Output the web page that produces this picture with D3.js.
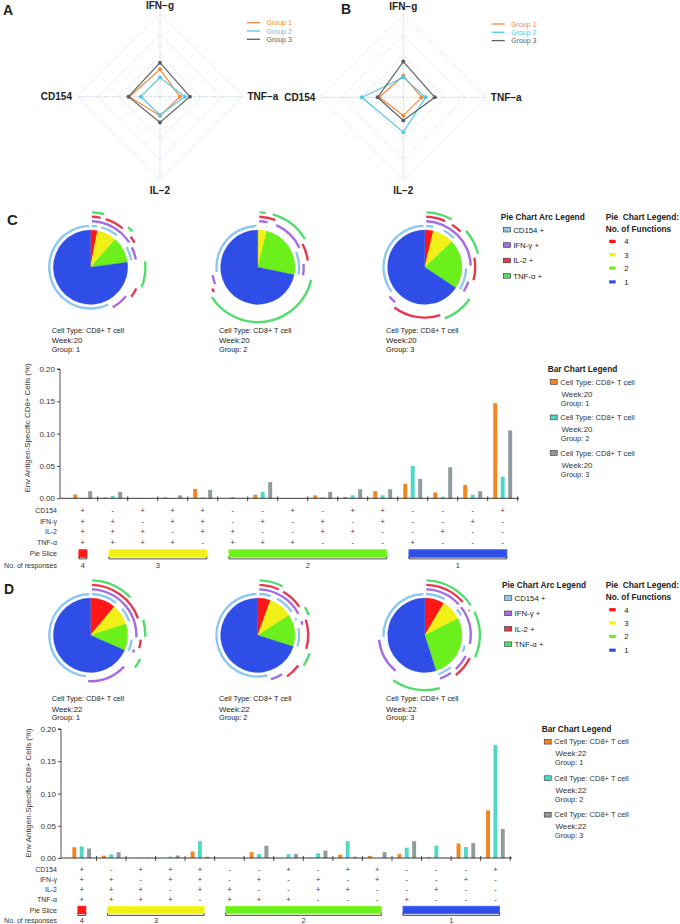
<!DOCTYPE html>
<html><head><meta charset="utf-8">
<script src="https://cdn.jsdelivr.net/npm/d3@7"></script>
<style>body{margin:0;background:#fff}svg{display:block;font-family:"Liberation Sans",Arial,Helvetica,sans-serif}</style>
</head><body><svg id="c" width="680" height="924"></svg>
<script>
// ---------------- DATA ----------------
const radarAxes = ["IFN\u2212g", "TNF\u2212a", "IL\u22122", "CD154"];
const radarA_g1 = [0.33, 0.24, 0.23, 0.37];
const radarA_g2 = [0.23, 0.30, 0.22, 0.23];
const radarA_g3 = [0.41, 0.36, 0.31, 0.38];
const radarB_g1 = [0.26, 0.22, 0.22, 0.29];
const radarB_g2 = [0.24, 0.27, 0.42, 0.50];
const radarB_g3 = [0.43, 0.38, 0.28, 0.31];
const groupNames = ["Group 1", "Group 2", "Group 3"];

const markerNames = ["CD154", "IFN-\u03b3", "IL-2", "TNF-\u03b1"];
const cd154 = ["+","-","+","+","+","-","-","+","-","+","+","-","-","-","+"];
const ifng  = ["+","+","-","+","+","-","+","-","+","-","+","-","-","+","-"];
const il2   = ["+","+","+","-","+","+","-","-","+","+","-","-","+","-","-"];
const tnfa  = ["+","+","+","+","-","+","+","+","-","-","-","+","-","-","-"];

// bar values (% of CD8+ cells), week 20
const w20_g1 = [0.006, 0.0015, 0, 0.0015, 0.0145, 0, 0.0055, 0, 0.0045, 0.002, 0.011, 0.0225, 0.009, 0.0205, 0.147];
const w20_g2 = [0, 0.0035, 0, 0, 0.0015, 0.002, 0.010, 0, 0.0015, 0.0045, 0.0045, 0.050, 0.0025, 0.0055, 0.0335];
const w20_g3 = [0.011, 0.010, 0, 0.0045, 0.013, 0, 0.025, 0, 0.010, 0.014, 0.014, 0.030, 0.048, 0.011, 0.105];
// week 22
const w22_g1 = [0.0167, 0.0037, 0, 0, 0.010, 0, 0.009, 0, 0.0005, 0.0052, 0.003, 0.006, 0.0015, 0.0225, 0.074];
const w22_g2 = [0.018, 0.0058, 0.0005, 0.002, 0.026, 0, 0.006, 0.0058, 0.0073, 0.026, 0, 0.016, 0.019, 0.017, 0.1755];
const w22_g3 = [0.0147, 0.009, 0.0005, 0.004, 0.002, 0, 0.019, 0.006, 0.0115, 0.002, 0.009, 0.026, 0.0005, 0.023, 0.045];

// pie values (% of responses per combination)
const pie20_g1 = [3.0, 0.7, 0, 0.7, 7.1, 0, 2.7, 0, 2.2, 1.0, 5.4, 8.6, 4.0, 7.0, 57.5];
const pie20_g2 = [0, 2.7, 0, 0, 1.2, 2.2, 10.8, 0, 1.6, 4.9, 4.9, 38.0, 2.2, 4.2, 27.3];
const pie20_g3 = [3.7, 3.4, 0, 1.5, 4.4, 0, 8.5, 0, 3.4, 4.7, 4.7, 10.2, 16.2, 3.7, 35.5];
const pie22_g1 = [11.0, 2.4, 0, 0, 6.6, 0, 5.9, 0, 0.3, 3.4, 2.0, 3.9, 1.0, 14.8, 48.7];
const pie22_g2 = [5.5, 1.8, 0, 0.6, 8.0, 0, 1.8, 1.8, 2.3, 8.0, 0, 4.9, 5.9, 5.2, 54.1];
const pie22_g3 = [8.5, 5.2, 0.3, 2.3, 1.2, 0, 11.0, 3.5, 6.7, 1.2, 5.2, 15.1, 0.3, 13.4, 26.1];

const yTicks = [0, 0.05, 0.10, 0.15, 0.20];
const funcLevels = [4, 3, 2, 1];

// ---------------- STYLE ----------------
const radarColors = ["#f28a38", "#55c8e8", "#5b6268"];
const barColors = ["#f5861f", "#4fd8c6", "#909b9b"];
const sliceColors = {4: "#ff1616", 3: "#f0f016", 2: "#6cf01c", 1: "#2f4ee8"};
const arcColors = ["#8cc8f0", "#a66ce4", "#e63a50", "#52dc6c"];
const FONT = '"Liberation Sans", Arial, Helvetica, sans-serif';

const svg = d3.select("#c");
svg.append("rect").attr("width", 680).attr("height", 924).attr("fill", "#fff");

function txt(x, y, s, o = {}) {
  return svg.append("text").attr("x", x).attr("y", y).text(s)
    .attr("font-size", o.size || 7.5).attr("font-weight", o.bold ? "bold" : "normal")
    .attr("text-anchor", o.anchor || "start").attr("fill", o.fill || "#222");
}

// ---------------- RADARS ----------------
function radar(cx, cy, series, lx, ly) {
  const R = 83;
  const r = d3.scaleLinear().domain([0, 1]).range([0, R]);
  const ang = i => i * Math.PI / 2;
  const pt = (v, i) => [cx + r(v) * Math.sin(ang(i)), cy - r(v) * Math.cos(ang(i))];
  const g = svg.append("g");
  [0.25, 0.5, 0.75, 1].forEach(l => {
    g.append("polygon").attr("points", radarAxes.map((a, i) => pt(l, i).join(",")).join(" "))
      .attr("fill", "none").attr("stroke", "#b7c5ec").attr("stroke-width", 0.7).attr("stroke-dasharray", "1.2,1.4");
  });
  radarAxes.forEach((a, i) => {
    const p = pt(1, i);
    g.append("line").attr("x1", cx).attr("y1", cy).attr("x2", p[0]).attr("y2", p[1])
      .attr("stroke", "#aabce8").attr("stroke-width", 0.8).attr("stroke-dasharray", "1.2,1.4");
  });
  txt(cx, cy - 87.5, radarAxes[0], {size: 10, bold: true, anchor: "middle"});
  txt(cx + 87.5, cy + 3.6, radarAxes[1], {size: 10, bold: true});
  txt(cx, cy + 97, radarAxes[2], {size: 10, bold: true, anchor: "middle"});
  txt(cx - 88, cy + 3.6, radarAxes[3], {size: 10, bold: true, anchor: "end"});
  const line = d3.line().curve(d3.curveLinearClosed);
  series.forEach((vals, k) => {
    g.append("path").attr("d", line(vals.map((v, i) => pt(v, i))))
      .attr("fill", "none").attr("stroke", radarColors[k]).attr("stroke-width", 1.2);
    vals.forEach((v, i) => {
      const p = pt(v, i);
      g.append("circle").attr("cx", p[0]).attr("cy", p[1]).attr("r", 2).attr("fill", radarColors[k]);
    });
  });
  groupNames.forEach((n, k) => {
    const y = ly + k * 8.3;
    g.append("line").attr("x1", lx).attr("x2", lx + 13).attr("y1", y).attr("y2", y)
      .attr("stroke", radarColors[k]).attr("stroke-width", 1.3);
    txt(lx + 19.5, y + 2.5, n, {size: 7, fill: radarColors[k]});
  });
}
txt(3, 14.5, "A", {size: 14, bold: true});
txt(341, 13.5, "B", {size: 14, bold: true});
radar(160, 96.7, [radarA_g1, radarA_g2, radarA_g3], 247, 22.7);
radar(403.3, 97.3, [radarB_g1, radarB_g2, radarB_g3], 491.7, 24);

// ---------------- PIES ----------------
const markerSigns = [cd154, ifng, il2, tnfa];
const nFunc = cd154.map((s, i) => markerSigns.filter(m => m[i] === "+").length);
const pieR = 37.2;
const arcRadii = [41.3, 45.9, 50.4, 54.9];

function drawPie(cx, cy, vals, week, grp) {
  const g = svg.append("g").attr("transform", `translate(${cx},${cy})`);
  const pie = d3.pie().sort(null).value(d => d.v);
  const arcs = pie(vals.map((v, i) => ({v, i})));
  const slices = [];
  arcs.forEach(a => {
    if (a.data.v <= 0) return;
    const n = nFunc[a.data.i];
    const last = slices[slices.length - 1];
    if (last && last.n === n) last.endAngle = a.endAngle;
    else slices.push({n, startAngle: a.startAngle, endAngle: a.endAngle});
  });
  const arcGen = d3.arc().innerRadius(0).outerRadius(pieR);
  g.selectAll("path.s").data(slices).join("path")
    .attr("d", arcGen).attr("fill", d => sliceColors[d.n])
    .attr("stroke", d => sliceColors[d.n]).attr("stroke-width", 0.3);
  markerSigns.forEach((signs, m) => {
    const runs = [];
    let cur = null;
    arcs.forEach(a => {
      if (a.data.v <= 0) return;
      if (signs[a.data.i] === "+") {
        if (cur) cur.e = a.endAngle; else cur = {s: a.startAngle, e: a.endAngle};
      } else if (cur) { runs.push(cur); cur = null; }
    });
    if (cur) runs.push(cur);
    const ag = d3.arc().innerRadius(arcRadii[m] - 1.2).outerRadius(arcRadii[m] + 1.2);
    runs.forEach(rn => {
      const pad = 0.03;
      if (rn.e - rn.s > 2 * pad + 0.01)
        g.append("path").attr("d", ag({startAngle: rn.s + pad, endAngle: rn.e - pad})).attr("fill", arcColors[m]);
    });
  });
  txt(cx - 38.8, cy + 65.5, "Cell Type: CD8+ T cell", {size: 7.3});
  txt(cx - 38.8, cy + 76.2, "Week:" + week, {size: 7.8});
  txt(cx - 38.8, cy + 84.7, "Group: " + grp, {size: 7.3});
}

function pieLegends(ax, px, y0) {
  txt(ax, y0 + 3, "Pie Chart Arc Legend", {size: 8.3, bold: true});
  const off = [13, 28.3, 43.8, 59.2];
  markerNames.forEach((n, m) => {
    const y = y0 + off[m];
    svg.append("rect").attr("x", ax + 2.6).attr("y", y - 2.3).attr("width", 7.2).attr("height", 4.6)
      .attr("fill", arcColors[m]).attr("stroke", "#333").attr("stroke-width", 0.6);
    txt(ax + 12.5, y + 2.8, n + " +", {size: 7.8});
  });
  txt(px, y0 + 3, "Pie  Chart Legend:", {size: 8.3, bold: true}).attr("xml:space", "preserve");
  txt(px, y0 + 15, "No. of Functions", {size: 8.3, bold: true});
  const off2 = [24.7, 38, 51.4, 65.2];
  funcLevels.forEach((f, k) => {
    const y = y0 + off2[k];
    svg.append("rect").attr("x", px + 3.5).attr("y", y - 1.6).attr("width", 6.5).attr("height", 3.2).attr("fill", sliceColors[f]);
    txt(px + 18.5, y + 2.8, String(f), {size: 7.8});
  });
}

const pieX = [90.5, 257.8, 424.8];
txt(7, 225, "C", {size: 15, bold: true});
[pie20_g1, pie20_g2, pie20_g3].forEach((p, k) => drawPie(pieX[k], 267.2, p, 20, k + 1));
pieLegends(500.7, 605.7, 216.7);

txt(4, 593.5, "D", {size: 14, bold: true});
[pie22_g1, pie22_g2, pie22_g3].forEach((p, k) => drawPie(pieX[k], 635.3, p, 22, k + 1));
pieLegends(502, 605.7, 585);

// ---------------- BAR CHARTS ----------------
function drawBars(p) {
  const data = p.data;
  const x = d3.scaleBand().domain(d3.range(15)).range([p.xStart, p.xEnd]);
  const xi = d3.scaleBand().domain([0, 1, 2]).range([0, x.bandwidth()]).paddingInner(0.47).paddingOuter(0.74);
  const y = d3.scaleLinear().domain([0, 0.2]).range([p.yZero, p.yTop]);
  const g = svg.append("g");
  data.forEach((vals, k) => {
    g.selectAll(null).data(vals).join("rect")
      .attr("x", (d, i) => x(i) + xi(k)).attr("width", xi.bandwidth())
      .attr("y", d => y(d)).attr("height", d => p.yZero - y(d))
      .attr("fill", barColors[k]);
  });
  const ya = svg.append("g").attr("transform", `translate(${p.axisX},0)`)
    .call(d3.axisLeft(y).tickValues(yTicks).tickSize(3).tickPadding(2).tickFormat(d3.format(".2f")));
  ya.selectAll("text").attr("font-size", 8).attr("font-family", FONT).attr("fill", "#333");
  ya.selectAll("line, path").attr("stroke", "#222").attr("stroke-width", 0.8);
  ya.select(".domain").attr("d", `M-3,${p.yTop}H0V${p.yZero}`);
  svg.append("line").attr("x1", p.axisX).attr("x2", p.axisEnd).attr("y1", p.yZero).attr("y2", p.yZero)
    .attr("stroke", "#222").attr("stroke-width", 0.9);
  d3.range(15).forEach(i => {
    const tx = x(i) + x.bandwidth();
    svg.append("line").attr("x1", tx).attr("x2", tx).attr("y1", p.yZero - 2).attr("y2", p.yZero + 3)
      .attr("stroke", "#222").attr("stroke-width", 0.8);
  });
  svg.append("text").attr("transform", `translate(${p.ylabX},${p.ylabY}) rotate(-90)`)
    .attr("text-anchor", "middle").attr("font-size", 7.9).attr("fill", "#333")
    .text("Env Antigen-Specific CD8+ Cells (%)");
  const rows = p.rows;
  const labels = ["CD154", "IFN-\u03b3", "IL-2", "TNF-\u03b1", "Pie Slice", "No. of responses"];
  labels.forEach((l, r) => txt(57, rows[r] + 2.5, l, {size: 7, anchor: "end", fill: "#333"}));
  markerSigns.forEach((signs, m) => {
    signs.forEach((s, i) => txt(x(i) + x.bandwidth() / 2, rows[m] + 2.5, s, {size: 7.5, anchor: "middle", fill: "#333"}));
  });
  const runs = [];
  nFunc.forEach((n, i) => {
    const last = runs[runs.length - 1];
    if (last && last.n === n) last.e = i; else runs.push({n, s: i, e: i});
  });
  runs.forEach(rn => {
    const x0 = x(rn.s) + x.bandwidth() / 2 - 3.8, x1 = x(rn.e) + x.bandwidth() / 2 + 4.2;
    const yc = rows[4];
    svg.append("rect").attr("x", x0).attr("y", yc - 3.8).attr("width", x1 - x0).attr("height", 7.6)
      .attr("fill", sliceColors[rn.n]).attr("stroke", d3.color(sliceColors[rn.n]).brighter(0.8)).attr("stroke-width", 0.8);
    const by = yc + 5.4;
    svg.append("path").attr("d", `M${x0},${by - 2.2}V${by}H${x1}V${by - 2.2}`)
      .attr("fill", "none").attr("stroke", "#222").attr("stroke-width", 0.8);
    txt((x0 + x1) / 2, rows[5] + 2.5, String(rn.n), {size: 7.5, anchor: "middle", fill: "#333"});
  });
}

function barLegend(tx, ty, week, spacing) {
  txt(tx, ty + 3, "Bar Chart Legend", {size: 8.3, bold: true});
  groupNames.forEach((n, k) => {
    const y = ty + 12.8 + k * spacing;
    svg.append("rect").attr("x", tx + 2.5).attr("y", y - 2.3).attr("width", 7).attr("height", 4.8)
      .attr("fill", barColors[k]).attr("stroke", "#333").attr("stroke-width", 0.6);
    txt(tx + 12.6, y + 2.7, "Cell Type: CD8+ T cell", {size: 7.5, fill: "#333"});
    txt(tx + 13.8, y + 14.8, "Week:" + week, {size: 7.9, fill: "#333"});
    txt(tx + 13, y + 23.8, "Group: " + (k + 1), {size: 7.4, fill: "#333"});
  });
}

drawBars({data: [w20_g1, w20_g2, w20_g3], axisX: 60, yTop: 369, yZero: 498.3, xStart: 67.7, xEnd: 517.7, axisEnd: 519,
  ylabX: 29.5, ylabY: 428, rows: [510, 521.1, 531.8, 542.3, 553.5, 565.3]});
barLegend(547.7, 369, 20, 35.5);

drawBars({data: [w22_g1, w22_g2, w22_g3], axisX: 61, yTop: 729, yZero: 858, xStart: 66.9, xEnd: 510.2, axisEnd: 512,
  ylabX: 30.5, ylabY: 793, rows: [869.5, 879.6, 889.6, 899.6, 910, 920.3]});
barLegend(541.7, 728.8, 22, 36.5);
</script></body></html>
